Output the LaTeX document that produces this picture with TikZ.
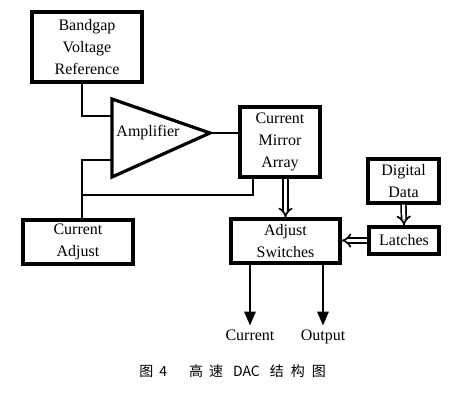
\documentclass[tikz,border=0pt]{standalone}
\usepackage{fontspec}
\setmainfont{Liberation Serif}
\newfontfamily\cjk{Noto Sans CJK SC}
\usetikzlibrary{arrows.meta}
\tikzset{>=latex}

\begin{document}
\begin{tikzpicture}[x=1pt, y=-1pt, line width=2.6pt,
    lbl/.style={font=\fontsize{16}{22}\selectfont, text height=11pt, text depth=3pt, inner sep=3pt},
    blk/.style={draw, line width=3.2pt, align=center, inner sep=0pt, font=\fontsize{16}{22}\selectfont},
    dbl/.style={double, double distance=3pt, line width=1.7pt, -{Implies}},
    outarrow/.style={-{Triangle[length=14pt,width=11pt]}}]
    \useasboundingbox (0,0) rectangle (475,404);
    % blocks
    \node[blk, minimum width=110, minimum height=70] (bgv) at (87,47) {Bandgap\\Voltage\\Reference};
    \node[blk, minimum width=80, minimum height=70] (cma) at (280,142) {Current\\Mirror\\Array};
    \node[blk, minimum width=110, minimum height=44] (cadj) at (78,242) {Current\\Adjust};
    \node[blk, minimum width=109, minimum height=44] (as) at (285.5,241) {Adjust\\Switches};
    \node[blk, minimum width=71, minimum height=44] (dd) at (403.5,181) {Digital\\Data};
    \node[blk, minimum width=70, minimum height=27] (lat) at (404,240.5) {Latches};
    % amplifier
    \coordinate (ampin1) at (112,116);
    \coordinate (ampin2) at (112,160);
    \coordinate (ampout) at (210,133);
    \draw[line width=3.2pt, line join=miter] (112,99) -- (ampout) -- (112,177) -- cycle;
    \node[font=\fontsize{16}{22}\selectfont] (amp) at (148,133) {Amplifier};
    % wiring
    \coordinate (jn) at (82,195);
    \coordinate (fb) at (253,195);
    \draw (bgv.south -| jn) |- (ampin1);
    \draw (ampout) -- (ampout -| cma.west);
    \draw (ampin2) -| (jn) -- (jn |- cadj.north);
    \draw (jn) -- (fb) -- (fb |- cma.south);
    \draw[dbl] (as.north |- cma.south) -- (as.north);
    \draw[dbl] (dd.south) -- (lat.north);
    \draw[dbl] (lat.west) -- (lat.west -| as.east);
    % outputs
    \node[lbl] (cur) at (250,337) {Current};
    \node[lbl] (outp) at (323,337) {Output};
    \draw[outarrow] (as.south -| cur) -- (cur.north);
    \draw[outarrow] (as.south -| outp) -- (outp.north);
    \node[font=\fontsize{14}{16}\selectfont, anchor=west, inner sep=0pt] (cap) at (138,371)
      {\cjk 图\hspace{6pt}4\hspace{22pt}高\hspace{6pt}速\hspace{10pt}DAC\hspace{10pt}结\hspace{7pt}构\hspace{7pt}图};
\end{tikzpicture}
\end{document}
